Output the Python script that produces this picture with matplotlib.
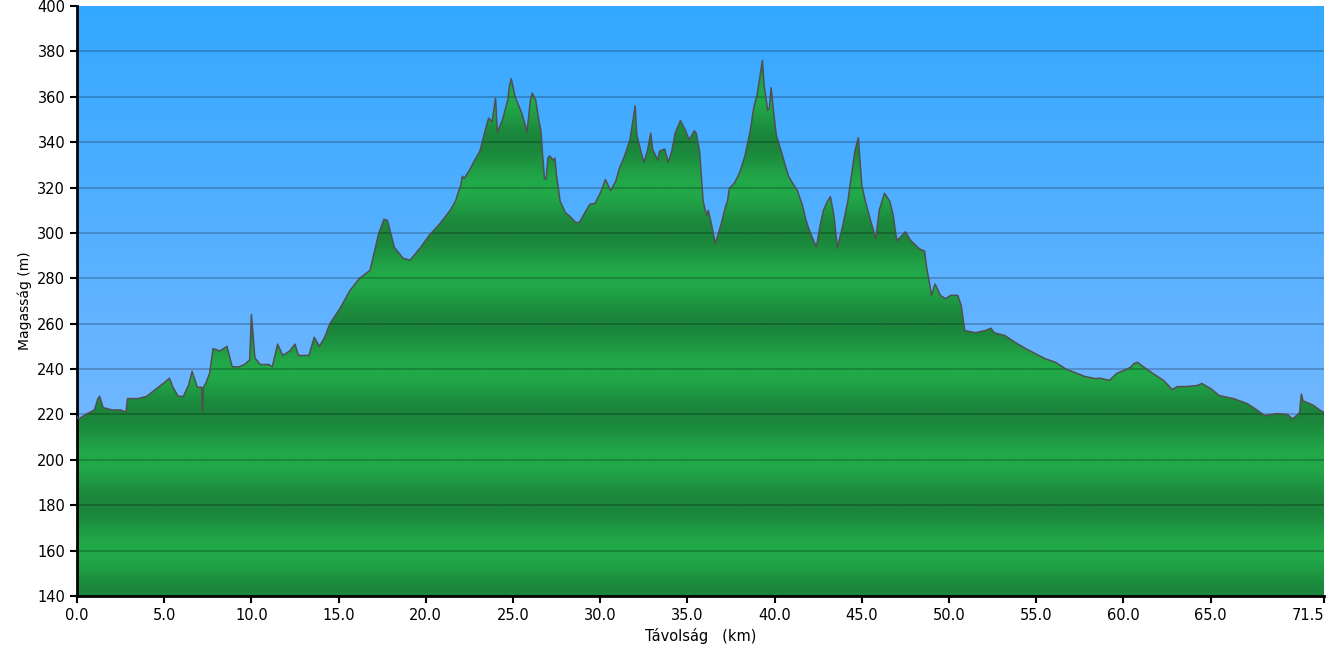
import numpy as np
import matplotlib
matplotlib.use('Agg')
import matplotlib.pyplot as plt
from matplotlib.colors import LinearSegmentedColormap

# elevation profile (km, m)
dist = [0.0, 0.1, 0.5, 1.0, 1.2, 1.3, 1.5, 2.0, 2.5, 2.8, 2.9, 3.5, 4.0, 4.5, 5.0, 5.3,
        5.5, 5.8, 6.1, 6.4, 6.6, 6.9, 7.15, 7.2, 7.25, 7.4, 7.6, 7.8, 8.2, 8.6, 8.9,
        9.3, 9.6, 9.9, 10.0, 10.2, 10.5, 11.0, 11.2, 11.5, 11.8, 12.2, 12.5, 12.7,
        13.0, 13.3, 13.6, 13.9, 14.2, 14.5, 15.1, 15.65, 16.2, 16.8, 17.3, 17.6,
        17.8, 18.2, 18.7, 19.1, 19.7, 20.2, 20.8, 21.4, 21.7, 22.0, 22.1, 22.2,
        22.5, 22.8, 23.1, 23.4, 23.6, 23.8, 24.0, 24.1, 24.4, 24.7, 24.8, 24.9,
        25.1, 25.2, 25.5, 25.7, 25.8, 26.0, 26.1, 26.3, 26.5, 26.6, 26.7, 26.8,
        26.9, 27.0, 27.1, 27.3, 27.4, 27.5, 27.7, 28.0, 28.3, 28.6, 28.8, 29.1,
        29.4, 29.7, 30.0, 30.3, 30.6, 30.9, 31.1, 31.4, 31.7, 31.9, 32.0, 32.1,
        32.3, 32.5, 32.7, 32.9, 33.0, 33.3, 33.4, 33.7, 33.9, 34.1, 34.3, 34.6,
        34.9, 35.1, 35.4, 35.5, 35.7, 35.9, 36.1, 36.2, 36.4, 36.6, 36.9, 37.2,
        37.3, 37.4, 37.7, 38.0, 38.3, 38.6, 38.8, 39.0, 39.2, 39.3, 39.4, 39.6,
        39.7, 39.8, 39.96, 40.1, 40.4, 40.6, 40.8, 41.1, 41.3, 41.6, 41.8, 42.0,
        42.3, 42.4, 42.6, 42.8, 43.0, 43.2, 43.4, 43.6, 43.9, 44.2, 44.4, 44.6,
        44.8, 45.0, 45.2, 45.5, 45.8, 46.0, 46.3, 46.6, 46.8, 47.0, 47.2, 47.5,
        47.8, 48.1, 48.3, 48.6, 48.7, 49.0, 49.2, 49.5, 49.8, 50.1, 50.5, 50.7,
        50.9, 51.5, 52.1, 52.4, 52.6, 53.2, 53.8, 54.4, 54.9, 55.5, 56.1, 56.7,
        57.2, 57.8, 58.4, 58.65, 59.2, 59.6, 60.4, 60.6, 60.8, 61.2, 61.7, 62.3,
        62.8, 63.1, 63.6, 64.2, 64.5, 65.0, 65.5, 66.3, 67.1, 67.7, 68.1, 68.8,
        69.4, 69.7, 70.0, 70.1, 70.2, 70.3, 70.9, 71.3, 71.5]
elev = [219, 218, 220, 222, 227, 228, 223, 222, 222, 221, 227, 227, 228, 231, 234, 236,
        232, 228, 228, 233, 239, 232, 232, 221, 232, 234, 238, 249, 248, 250, 241,
        241, 242, 244, 264, 245, 242, 242, 241, 251, 246, 248, 251, 246,
        246, 246, 254, 250, 254, 260, 267, 274.6, 280, 283.5, 299.8, 306,
        305.5, 293.6, 288.8, 288, 293.6, 299, 304, 310, 314, 321, 325, 324,
        327.6, 332, 336, 345, 350.6, 349, 359.4, 344.4, 350, 358.5, 365, 368,
        360.7, 358.5, 352.8, 347.5, 344.4, 358.5, 361.6, 358.5, 348.8, 345, 334, 324,
        323.6, 333, 334, 332, 333, 325, 314, 309, 307, 304.6, 304.6, 308.6,
        312.6, 313, 317.5, 323.5, 318.6, 323, 328.5, 334, 341, 350.6, 356, 343,
        337, 331, 336, 344, 337, 332, 336, 337, 331, 336, 344, 349.5,
        345, 341, 345, 344, 336, 314, 307.7, 310, 303, 295.4, 303, 312,
        314, 319.6, 322, 326.7, 334, 345, 355, 361, 371, 376, 365, 354,
        355, 364, 351.9, 343, 335.5, 330, 325, 321, 318.8, 312, 305.5, 301,
        295.4, 294, 303, 310, 313.5, 316, 307.7, 293.6, 303, 314, 325, 336,
        342, 321, 314, 305.5, 297.6, 310, 317.5, 314, 307.7, 296.7, 298, 300.5,
        296.7, 294.5, 293, 292, 285.6, 272.5, 277.5, 272.5, 271, 272.5, 272.5, 268,
        257, 256, 257, 258, 256, 254.8, 251.7, 249, 247, 244.6, 243, 240,
        238.5, 236.7, 235.8, 236, 235, 238, 240.7, 242.4, 243, 240.7, 238, 235,
        231, 232.3, 232.3, 232.7, 233.6, 231.4, 228.3, 227, 224.8, 221.7, 219.5, 220.4,
        220, 218, 220, 220.8, 229, 226, 224, 221.7, 221]

yticks = list(range(140, 401, 20))
xticks = [0, 5, 10, 15, 20, 25, 30, 35, 40, 45, 50, 55, 60, 65, 71.5]
xlabels = ['0.0', '5.0', '10.0', '15.0', '20.0', '25.0', '30.0', '35.0', '40.0',
           '45.0', '50.0', '55.0', '60.0', '65.0', '71.5']

xmax = 71.5
ymin, ymax = 140, 400

fig = plt.figure(figsize=(13.28, 6.48), dpi=100)
ax = fig.add_axes([77/1328, 52/648, 1247/1328, 590/648])

# sky gradient
sky = LinearSegmentedColormap.from_list('sky', ['#8cbdff', '#33a8ff'])
grad = np.linspace(0, 1, 256).reshape(-1, 1)
ax.imshow(grad, cmap=sky, origin='lower', aspect='auto',
          extent=[0, xmax, ymin, ymax], zorder=0)

# green fill with 40 m horizontal bands, clipped to the profile
yy = np.linspace(ymin, ymax, 1200)
band = 0.5 + 0.5*np.cos((yy - 160) / 40.0 * 2*np.pi)
greens = LinearSegmentedColormap.from_list('gr', ['#1b853b', '#22aa4a'])
im = ax.imshow(band.reshape(-1, 1), cmap=greens, origin='lower', aspect='auto',
               extent=[0, xmax, ymin, ymax], zorder=1)
poly = ax.fill_between(dist, elev, ymin, color='none', lw=0)
clip = poly.get_paths()[0]
im.set_clip_path(clip, transform=ax.transData)

ax.plot(dist, elev, color='#505050', lw=1.1, zorder=3)

for y in yticks[1:-1]:
    ax.axhline(y, color='black', alpha=0.25, lw=1.2, zorder=2)

ax.set_xlim(0, xmax)
ax.set_ylim(ymin, ymax)
ax.set_xticks(xticks)
ax.set_xticklabels(xlabels)
ax.get_xticklabels()[-1].set_horizontalalignment('right')
ax.set_yticks(yticks)
ax.tick_params(direction='out', length=5, width=1.5, labelsize=10.5, colors='black')
for s in ['top', 'right']:
    ax.spines[s].set_visible(False)
ax.spines['left'].set_linewidth(2)
ax.spines['bottom'].set_linewidth(2)

ax.set_ylabel('Magasság (m)', fontsize=10)
ax.set_xlabel('Távolság   (km)', fontsize=10.5, labelpad=4)

plt.savefig('out.png', dpi=100)
